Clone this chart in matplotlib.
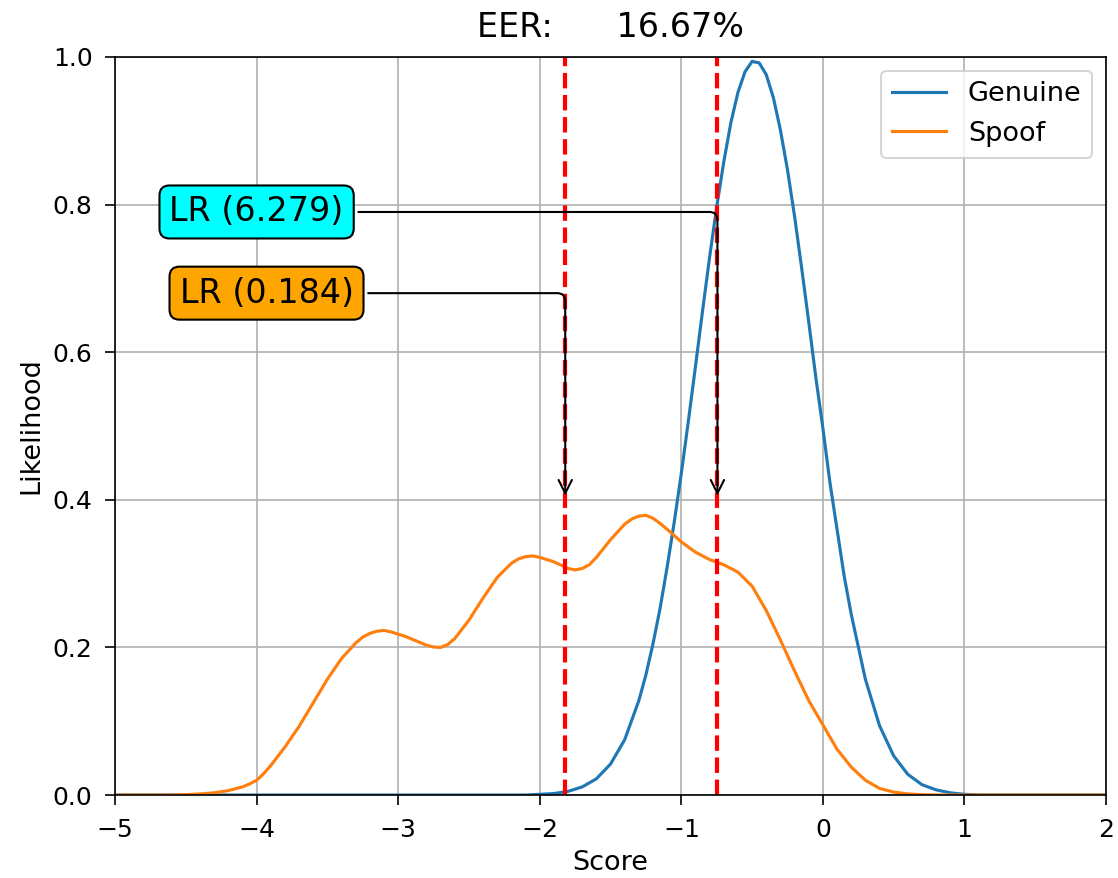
import matplotlib
matplotlib.use("Agg")
import matplotlib.pyplot as plt

# score samples and likelihoods
genuine_x = [-5.0, -2.1, -2.0, -1.9, -1.8, -1.7, -1.6, -1.5, -1.4, -1.3, -1.25, -1.2, -1.15,
             -1.1, -1.05, -1.0, -0.95, -0.9, -0.85, -0.8, -0.75, -0.7, -0.65, -0.6, -0.55,
             -0.5, -0.45, -0.4, -0.35, -0.3, -0.25, -0.2, -0.15, -0.1, -0.05, 0.0, 0.05,
             0.1, 0.15, 0.2, 0.3, 0.4, 0.5, 0.6, 0.7, 0.8, 0.9, 1.0, 1.1, 2.0]
genuine_y = [0.0, 0.0, 0.001, 0.002, 0.005, 0.011, 0.022, 0.042, 0.075, 0.128, 0.163, 0.205, 0.253,
             0.309, 0.370, 0.436, 0.507, 0.581, 0.656, 0.729, 0.797, 0.858, 0.911, 0.952, 0.980,
             0.994, 0.992, 0.976, 0.945, 0.901, 0.847, 0.784, 0.714, 0.641, 0.566, 0.497, 0.423,
             0.360, 0.297, 0.245, 0.157, 0.094, 0.053, 0.028, 0.014, 0.007, 0.003, 0.001, 0.0, 0.0]

spoof_x = [-5.0, -4.6, -4.5, -4.4, -4.3, -4.2, -4.1, -4.05, -4.0, -3.95, -3.9, -3.8, -3.7, -3.6,
           -3.5, -3.4, -3.3, -3.25, -3.2, -3.15, -3.1, -3.05, -3.0, -2.95, -2.9, -2.8, -2.75,
           -2.7, -2.65, -2.6, -2.5, -2.4, -2.3, -2.2, -2.15, -2.1, -2.05, -2.0, -1.9, -1.8,
           -1.75, -1.7, -1.65, -1.6, -1.5, -1.4, -1.35, -1.3, -1.25, -1.2, -1.15, -1.1, -1.0,
           -0.9, -0.8, -0.7, -0.6, -0.5, -0.4, -0.3, -0.2, -0.1, 0.0, 0.1, 0.2, 0.3, 0.4,
           0.5, 0.6, 0.7, 0.8, 2.0]
spoof_y = [0.0, 0.0, 0.0005, 0.0015, 0.003, 0.006, 0.011, 0.015, 0.020, 0.029, 0.040, 0.065, 0.093, 0.125,
           0.157, 0.185, 0.206, 0.214, 0.219, 0.222, 0.223, 0.221, 0.218, 0.215, 0.211, 0.203, 0.2005,
           0.200, 0.204, 0.212, 0.237, 0.267, 0.295, 0.314, 0.320, 0.323, 0.324, 0.322, 0.316, 0.307,
           0.305, 0.307, 0.312, 0.322, 0.346, 0.367, 0.374, 0.378, 0.379, 0.375, 0.368, 0.360, 0.343,
           0.329, 0.319, 0.312, 0.302, 0.283, 0.250, 0.210, 0.168, 0.128, 0.095, 0.062, 0.038, 0.020, 0.009,
           0.004, 0.0015, 0.0005, 0.0, 0.0]

thresholds = [-1.82, -0.745]
lr_labels = ["LR (0.184)", "LR (6.279)"]
lr_colors = ["orange", "cyan"]
lr_text_pos = [(-3.93, 0.68), (-4.0, 0.79)]
eer = 16.67

fig = plt.figure(figsize=(1118 / 150, 878 / 150), dpi=150)
ax = fig.add_axes([0.1029, 0.0945, 0.8864, 0.8406])

ax.plot(genuine_x, genuine_y, label="Genuine")
ax.plot(spoof_x, spoof_y, label="Spoof")

for t in thresholds:
    ax.axvline(t, color="r", linestyle="--", linewidth=2)

for t, lab, col, pos in zip(thresholds, lr_labels, lr_colors, lr_text_pos):
    ax.annotate(lab, xy=(t, 0.4), xytext=pos, fontsize=16, ha="center", va="center",
                bbox=dict(boxstyle="round", fc=col, ec="k"),
                arrowprops=dict(arrowstyle="->",
                                connectionstyle="angle,angleA=0,angleB=90,rad=8"))

ax.set_xlim(-5, 2)
ax.set_ylim(0, 1)
ax.tick_params(labelsize=12, length=4.8, pad=6)
ax.set_xlabel("Score", fontsize=13)
ax.set_ylabel("Likelihood", fontsize=13)
ax.set_title("EER:      {:.2f}%".format(eer), fontsize=16, pad=9.5)
ax.grid(True)
ax.legend(loc="upper right", fontsize=13)

fig.savefig("out.png", dpi=150)
